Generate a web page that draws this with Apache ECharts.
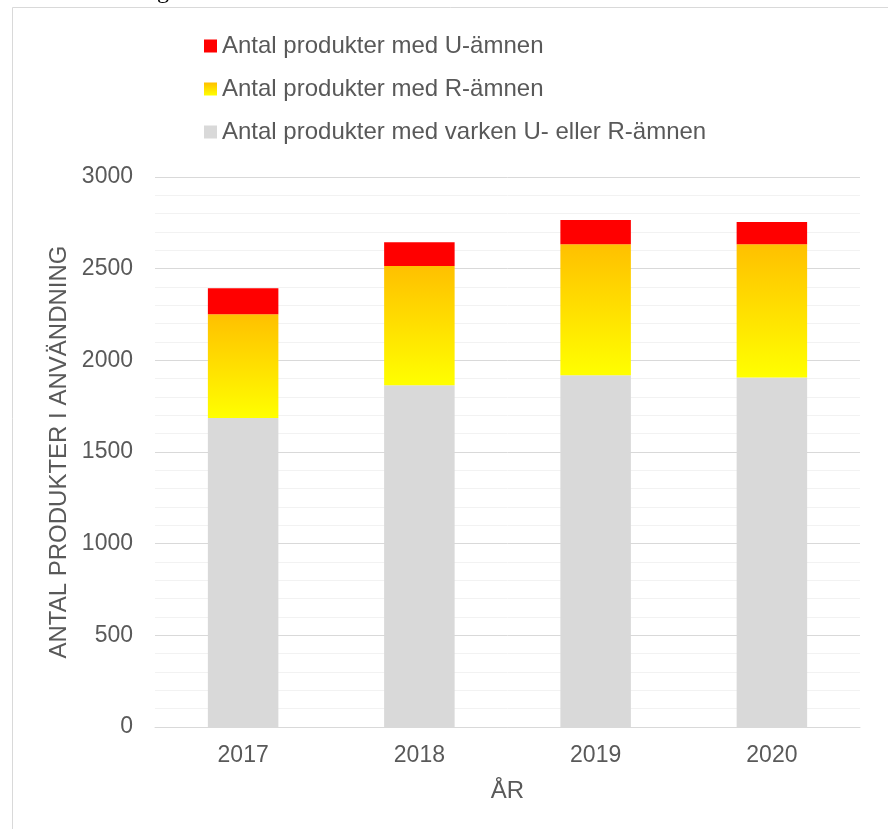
<!DOCTYPE html>
<html>
<head>
<meta charset="utf-8">
<script src="https://cdn.jsdelivr.net/npm/echarts@6/dist/echarts.min.js"></script>
<style>
html,body{margin:0;padding:0;background:#fff;}
#chart{width:888px;height:829px;}
</style>
</head>
<body>
<div id="chart"></div>
<script>
const categories = ['2017', '2018', '2019', '2020'];
const neitherValues = [1685, 1864, 1918, 1907];
const rValues = [566, 651, 715, 726];
const uValues = [142, 129, 132, 121];
const seriesNames = [
  'Antal produkter med varken U- eller R-ämnen',
  'Antal produkter med R-ämnen',
  'Antal produkter med U-ämnen'
];
const yTicks = [0, 500, 1000, 1500, 2000, 2500, 3000];

const font = 'Liberation Sans, Arial, sans-serif';
const textColor = '#595959';
const yellowGrad = new echarts.graphic.LinearGradient(0, 0, 0, 1, [
  {offset: 0, color: '#FFC000'},
  {offset: 1, color: '#FFFF00'}
]);

const chart = echarts.init(document.getElementById('chart'));
chart.setOption({
  animation: false,
  backgroundColor: '#fff',
  graphic: [
    {type: 'polyline', shape: {points: [[12.5, 829], [12.5, 7.5], [888, 7.5]]},
     style: {stroke: '#d9d9d9', lineWidth: 1, fill: null}, silent: true},
    {type: 'text', left: 157, top: -20,
     style: {text: 'g', font: '24px "Liberation Serif", serif', fill: '#000'}}
  ],
  legend: {
    orient: 'vertical',
    left: 199,
    top: 29,
    itemWidth: 13,
    itemHeight: 13,
    itemGap: 19,
    icon: 'rect',
    data: [seriesNames[2], seriesNames[1], seriesNames[0]],
    textStyle: {fontFamily: font, fontSize: 24, color: textColor}
  },
  grid: {left: 155, right: 28, top: 177, bottom: 102, containLabel: false},
  xAxis: {
    type: 'category',
    data: categories,
    name: 'ÅR',
    nameLocation: 'middle',
    nameGap: 52,
    nameTextStyle: {fontFamily: font, fontSize: 24, color: textColor},
    axisLine: {show: true, lineStyle: {color: '#d9d9d9', width: 1}},
    axisTick: {show: false},
    axisLabel: {fontFamily: font, fontSize: 23, color: textColor, margin: 17}
  },
  yAxis: {
    type: 'value',
    min: 0,
    max: 3000,
    interval: 500,
    name: 'ANTAL PRODUKTER I ANVÄNDNING',
    nameLocation: 'middle',
    nameGap: 84,
    nameRotate: 90,
    nameTextStyle: {fontFamily: font, fontSize: 24, color: textColor},
    axisLine: {show: false},
    axisTick: {show: false},
    axisLabel: {fontFamily: font, fontSize: 23, color: textColor, margin: 22,
      formatter: v => yTicks.includes(v) ? String(v) : ''},
    splitLine: {show: true, lineStyle: {color: '#d9d9d9', width: 1}},
    minorTick: {show: false, splitNumber: 5},
    minorSplitLine: {show: true, lineStyle: {color: '#f2f2f2', width: 1}}
  },
  series: [
    {name: seriesNames[0], type: 'bar', stack: 'total', data: neitherValues,
     barWidth: '40%', itemStyle: {color: '#D9D9D9'}},
    {name: seriesNames[1], type: 'bar', stack: 'total', data: rValues,
     barWidth: '40%', itemStyle: {color: yellowGrad}},
    {name: seriesNames[2], type: 'bar', stack: 'total', data: uValues,
     barWidth: '40%', itemStyle: {color: '#FF0000'}}
  ]
});
</script>
</body>
</html>
